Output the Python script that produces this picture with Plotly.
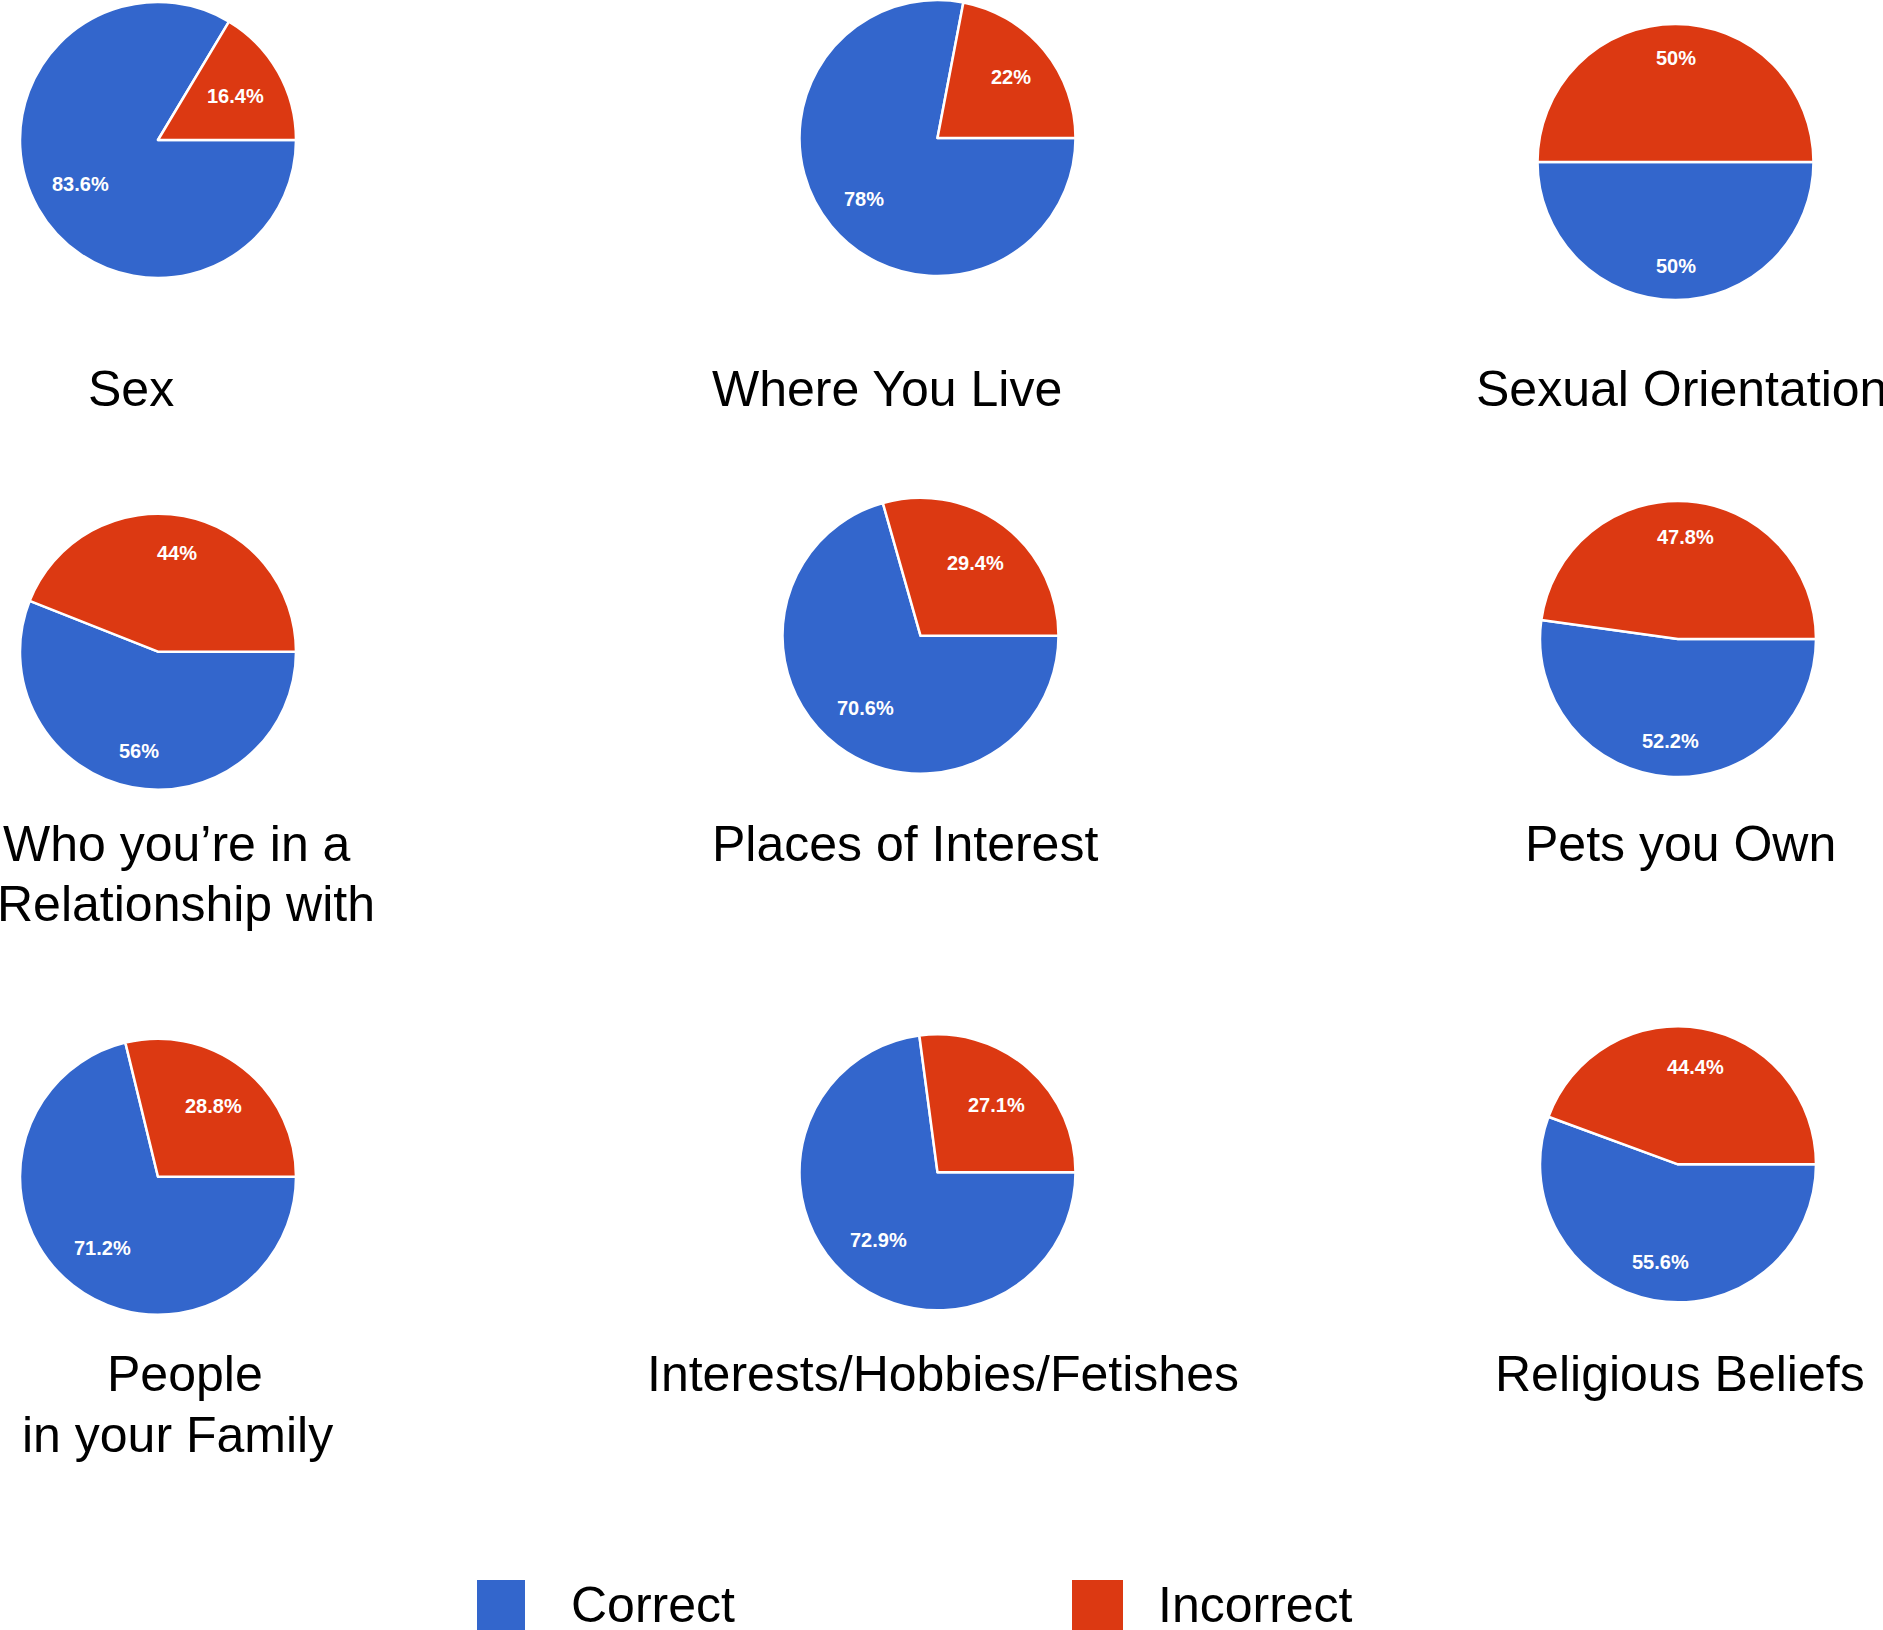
import math
import plotly.graph_objects as go

# ---------------- data ----------------
topics = ["Sex", "Where You Live", "Sexual Orientation",
          "Who you’re in a Relationship with", "Places of Interest", "Pets you Own",
          "People in your Family", "Interests/Hobbies/Fetishes", "Religious Beliefs"]
title_lines = [["Sex"], ["Where You Live"], ["Sexual Orientation"],
               ["Who you’re in a", "Relationship with"], ["Places of Interest"], ["Pets you Own"],
               ["People", "in your Family"], ["Interests/Hobbies/Fetishes"], ["Religious Beliefs"]]
correct = [83.6, 78, 50, 56, 70.6, 52.2, 71.2, 72.9, 55.6]
incorrect = [16.4, 22, 50, 44, 29.4, 47.8, 28.8, 27.1, 44.4]
series_names = ["Correct", "Incorrect"]

# ---------------- layout / style ----------------
W, H = 1883, 1630
BLUE = "#3366CC"
RED = "#DC3912"
FONT = "Liberation Sans, Arial, Helvetica, sans-serif"
R = 138
centers = [(158, 140), (937.5, 138), (1675.5, 162),
           (158, 651.7), (920.5, 635.7), (1678, 639),
           (158, 1176.7), (937.5, 1172.3), (1678, 1164.3)]
title_pos = [[(130.5, 389)], [(887, 389)], [(1681, 389)],
             [(177, 844), (186, 904)], [(905, 844)], [(1680, 844)],
             [(185, 1374), (177, 1435)], [(943, 1374)], [(1680, 1374)]]
TITLE_SIZE = 50
LABEL_SIZE = 20

def px_to_paper(x, y):
    return x / W, 1 - y / H

def text_width(s, size):
    w = 0
    for ch in s:
        if ch.isdigit():
            w += 0.556
        elif ch == ".":
            w += 0.278
        elif ch == "%":
            w += 0.889
        else:
            w += 0.556
    return w * size

fig = go.Figure()
annotations = []

for i, name in enumerate(topics):
    cx, cy = centers[i]
    vals = [correct[i], incorrect[i]]
    # Correct runs clockwise from 3 o'clock; Incorrect fills the rest, ending at 3 o'clock
    fig.add_trace(go.Pie(
        labels=series_names, values=vals, name=name,
        sort=False, direction="clockwise", rotation=90,
        marker=dict(colors=[BLUE, RED], line=dict(color="white", width=2.5)),
        textinfo="none", hoverinfo="label+percent", showlegend=False,
        domain=dict(x=[(cx - R) / W, (cx + R) / W],
                    y=[1 - (cy + R) / H, 1 - (cy - R) / H]),
    ))
    # value labels along the mid-angle of each slice (math angles, CCW from 3 o'clock)
    total = correct[i] + incorrect[i]
    inc_sweep = 360.0 * incorrect[i] / total
    mids = [inc_sweep + (360.0 - inc_sweep) / 2, inc_sweep / 2]
    for v, mid_deg in zip(vals, mids):
        mid = math.radians(mid_deg)
        txt = f"{v:g}%"
        hw = text_width(txt, LABEL_SIZE) / 2
        hh = 18.4
        d = 0.887 * R - (hw * abs(math.cos(mid)) + hh * abs(math.sin(mid)))
        x = cx + d * math.cos(mid)
        y = cy - d * math.sin(mid)
        xp, yp = px_to_paper(x, y)
        annotations.append(dict(x=xp, y=yp, xref="paper", yref="paper", text=f"<b>{txt}</b>",
                                showarrow=False, xanchor="center", yanchor="middle",
                                font=dict(family=FONT, size=LABEL_SIZE, color="white")))
    for line, (tx, ty) in zip(title_lines[i], title_pos[i]):
        xp, yp = px_to_paper(tx, ty)
        annotations.append(dict(x=xp, y=yp, xref="paper", yref="paper", text=line,
                                showarrow=False, xanchor="center", yanchor="middle",
                                font=dict(family=FONT, size=TITLE_SIZE, color="black")))

# legend
shapes = []
legend_boxes = [(477, 525), (1072, 1123)]
legend_text_x = [569, 1156]
legend_colors = [BLUE, RED]
for nm, (x0, x1), tx, col in zip(series_names, legend_boxes, legend_text_x, legend_colors):
    shapes.append(dict(type="rect", xref="paper", yref="paper",
                       x0=x0 / W, x1=x1 / W, y0=0, y1=1 - 1580 / H,
                       fillcolor=col, line=dict(width=0)))
    xp, yp = px_to_paper(tx, 1605)
    annotations.append(dict(x=xp, y=yp, xref="paper", yref="paper", text=nm,
                            showarrow=False, xanchor="left", yanchor="middle",
                            font=dict(family=FONT, size=TITLE_SIZE, color="black")))

fig.update_layout(width=W, height=H, margin=dict(l=0, r=0, t=0, b=0),
                  paper_bgcolor="white", plot_bgcolor="white",
                  annotations=annotations, shapes=shapes, showlegend=False)
fig.write_html("out.html")
